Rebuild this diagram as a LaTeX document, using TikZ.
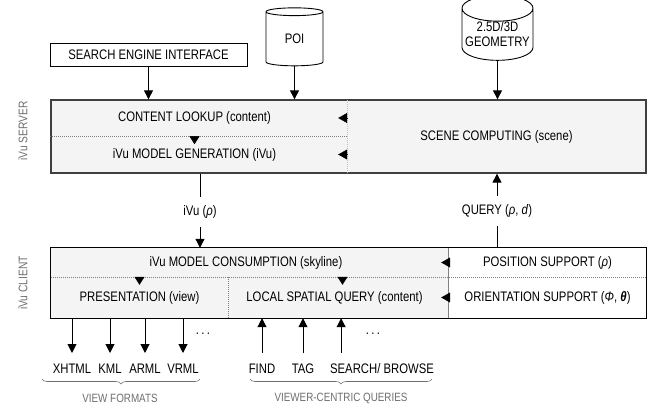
\documentclass[tikz,border=0pt]{standalone}
\usepackage{fontspec}
\setmainfont{Liberation Sans}[FakeStretch=0.82]
\usetikzlibrary{arrows.meta, shapes.geometric, decorations.pathreplacing}
\definecolor{panelgray}{HTML}{F4F4F4}
\definecolor{framegray}{HTML}{404040}
\definecolor{labelgray}{HTML}{6E6E6E}

\begin{document}
\begin{tikzpicture}[x=1pt, y=-1pt,
	font=\fontsize{13.8}{15}\selectfont,
	>={Triangle[length=9pt,width=9pt]},
	arr/.style={->, line width=1pt},
	tipl/.style={-{Triangle[length=9pt,width=10pt]}, line width=0.5pt},
	tipd/.style={-{Triangle[length=8pt,width=10pt]}, line width=0.5pt},
	cell/.style={inner sep=0pt},
	txt/.style={inner sep=0pt, outer sep=0pt, outer ysep=9pt},
	fmt/.style={inner sep=0pt, outer xsep=0pt, outer ysep=10pt, text height=10pt, text depth=0pt},
	db/.style={cylinder, shape border rotate=90, draw, line width=0.9pt, aspect=0.4, inner sep=0pt, fill=white},
	dotline/.style={gray, line width=0.6pt, dash pattern=on 0.8pt off 1.2pt},
	grp/.style={labelgray, font=\fontsize{12}{14}\selectfont, inner sep=0pt},
	side/.style={labelgray, font=\fontsize{12.5}{14}\selectfont, inner sep=0pt},
	brace/.style={labelgray, line width=0.6pt, decorate, decoration={brace, amplitude=5pt, mirror}}
	]
	\useasboundingbox (0,0) rectangle (654,408);
	
	%sources
	\node[draw, line width=0.9pt, minimum width=197, minimum height=23, inner sep=0pt] (sei) at (148.5,54.5) {SEARCH ENGINE INTERFACE};
	\node[db, minimum width=57, minimum height=58] (poi) at (294.5,39) {POI};
	\node[db, minimum width=71, minimum height=65, align=center] (geo) at (497.5,34.5) {2.5D/3D\\GEOMETRY};
	
	%server
	\node[draw=framegray, line width=1.3pt, fill=panelgray, minimum width=595, minimum height=73] (server) at (348.5,136.5) {};
	\node[cell, minimum width=287, minimum height=36] (lookup) at (194.5,118) {CONTENT LOOKUP (content)};
	\node[cell, minimum width=287, minimum height=37] (gen) at (194.5,154.5) {iVu MODEL GENERATION (iVu)};
	\node[cell, minimum width=299, minimum height=73] (scene) at (496.5,136.5) {SCENE COMPUTING (scene)};
	\draw[dotline] (server.west |- lookup.south) -- (scene.west |- lookup.south);
	\draw[dotline, gray!50] (scene.north west) -- (scene.south west);
	\draw[tipl] (scene.west |- lookup) -- (lookup.east);
	\draw[tipl] (scene.west |- gen) -- (gen.east);
	\draw[tipd] (lookup.south) -- +(0,8);
	
	%client
	\node[fill=panelgray, minimum width=398, minimum height=70, inner sep=0pt] (cleft) at (250,283) {};
	\node[minimum width=197, minimum height=70, inner sep=0pt] (cright) at (547.5,283) {};
	\draw[line width=1.2pt] (cleft.north west) rectangle (cright.south east);
	\draw[gray, line width=0.7pt] (cright.north west) -- (cright.south west);
	\node[cell, minimum width=390, minimum height=29] (consume) at (246,262.5) {iVu MODEL CONSUMPTION (skyline)};
	\node[cell, minimum width=177, minimum height=41] (pres) at (139.5,297.5) {PRESENTATION (view)};
	\node[cell, minimum width=213, minimum height=41] (local) at (334.5,297.5) {LOCAL SPATIAL QUERY (content)};
	\node[cell, minimum width=197, minimum height=29] (pos) at (547.5,262.5) {POSITION SUPPORT (\textit{ρ})};
	\node[cell, minimum width=197, minimum height=41] (orient) at (547.5,297.5) {ORIENTATION SUPPORT (\textit{Φ}, \textbf{\textit{θ}})};
	\draw[dotline] (cleft.west |- consume.south) -- (cright.east |- consume.south);
	\draw[dotline] (pres.north east) -- (pres.south east);
	\draw[tipl] (pos.west) -- (consume.east);
	\draw[tipl] (orient.west) -- (local.east);
	\draw[tipd] (pres.north) -- +(0,8);
	\draw[tipd] ([xshift=8pt]local.north) -- +(0,8);
	
	%between server and client
	\node[txt] (ivu) at (200,212) {iVu (\textit{ρ})};
	\draw[line width=1pt] (ivu.north |- server.south) -- (ivu.north);
	\draw[arr] (ivu.south) -- (ivu.south |- cleft.north);
	\node[txt] (query) at (497,211) {QUERY (\textit{ρ}, \textit{d})};
	\draw[line width=1pt] (query.south |- cright.north) -- (query.south);
	\draw[arr] (query.north) -- (query.north |- server.south);
	
	%sources into server
	\draw[arr] (sei.south) -- (sei.south |- server.north);
	\draw[arr] (poi.south) -- (poi.south |- server.north);
	\draw[arr] (geo.south) -- (geo.south |- server.north);
	
	%view formats
	\foreach \name/\x/\lbl in {xhtml/72/XHTML, kml/110/KML, arml/145/ARML, vrml/183/VRML} {
		\node[fmt] (\name) at (\x,368) {\lbl};
		\draw[arr] (\name |- pres.south) -- (\name.north);
	}
	\node[cell] (moreviews) at (203,334) {.\,.\,.};
	
	%queries
	\node[fmt] (find) at (262,368) {FIND};
	\node[fmt] (tag) at (303,368) {TAG};
	\node[fmt] (search) at (382,368) {SEARCH/ BROWSE};
	\coordinate (srch) at ([xshift=11pt]search.north west);
	\draw[arr] (find.north) -- (find.north |- local.south);
	\draw[arr] (tag.north) -- (tag.north |- local.south);
	\draw[arr] (srch) -- (srch |- local.south);
	\node[cell] (morequeries) at (373,334) {.\,.\,.};
	
	%groups
	\draw[brace] (42,379) -- (200,379);
	\node[grp] (views) at (120,398) {VIEW FORMATS};
	\draw[brace] (250,379) -- (432,379);
	\node[grp] (viewer) at (341,398) {VIEWER-CENTRIC QUERIES};
	
	%side labels
	\node[side, rotate=90] (srvlbl) at (23,131) {iVu SERVER};
	\node[side, rotate=90] (cltlbl) at (23,283) {iVu CLIENT};
\end{tikzpicture}
\end{document}
